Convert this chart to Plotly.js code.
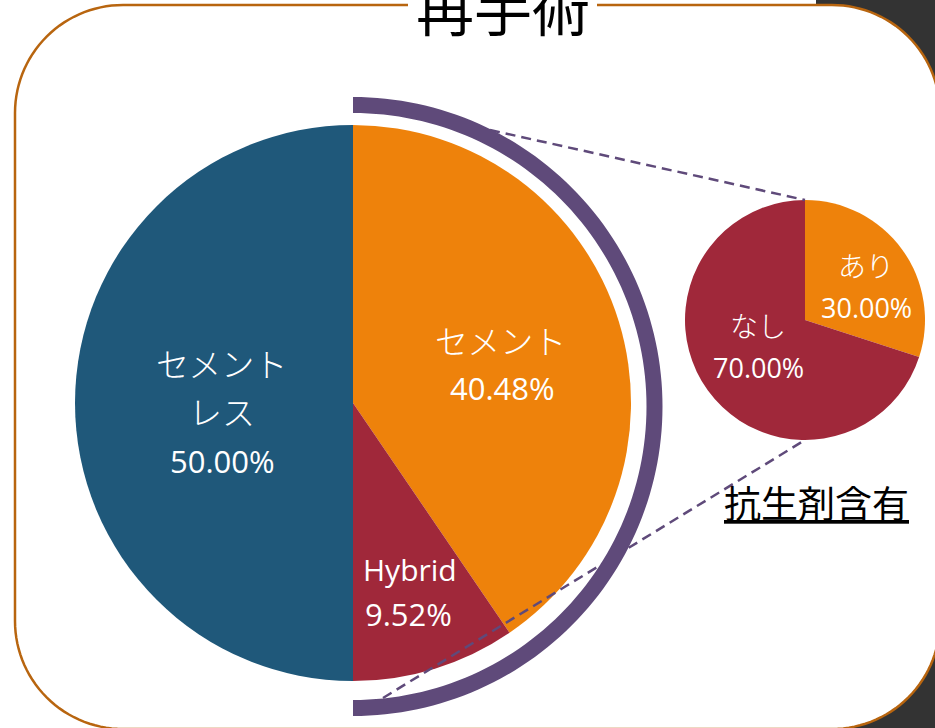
<!DOCTYPE html>
<html>
<head>
<meta charset="utf-8">
<script src="https://cdn.plot.ly/plotly-3.0.1.min.js"></script>
<style>html,body{margin:0;padding:0;background:#fff;}#chart{width:935px;height:728px;}</style>
</head>
<body>
<div id="chart"></div>
<script>
// ---- data ----
const chartTitle = '再手術';
const bigLabels = ['セメント', 'Hybrid', 'セメントレス'];
const bigValues = [40.48, 9.52, 50.00];
const bigDisplay = [['セメント'], ['Hybrid'], ['セメント', 'レス']];
const smallLabels = ['あり', 'なし'];
const smallValues = [30.00, 70.00];
const smallTitle = '抗生剤含有';

// ---- styles ----
const W = 935, H = 728;
const cBlue = '#1F587A', cOrange = '#EE820B', cRed = '#A0283A', cPurple = '#5F4A7A';
const cBorder = '#B8650F', cDark = '#333333';
const jpFont = 'Noto Sans CJK JP, sans-serif';
const numFont = 'Open Sans, Noto Sans, sans-serif';

function dom(cx, cy, r) {
  return { x: [(cx - r) / W, (cx + r) / W], y: [(H - cy - r) / H, (H - cy + r) / H] };
}

const bigPie = {
  type: 'pie', labels: bigLabels, values: bigValues, sort: false, direction: 'clockwise', rotation: 0,
  marker: { colors: [cOrange, cRed, cBlue], line: { width: 0 } },
  textinfo: 'none', hoverinfo: 'label+percent', showlegend: false,
  domain: dom(353, 403, 278)
};
const smallPie = {
  type: 'pie', labels: smallLabels, values: smallValues, sort: false, direction: 'clockwise', rotation: 0,
  marker: { colors: [cOrange, cRed], line: { width: 0 } },
  textinfo: 'none', hoverinfo: 'label+percent', showlegend: false,
  domain: dom(805, 320, 120)
};

function pt(cx, cy, r, a) {
  const t = a * Math.PI / 180;
  return [cx + r * Math.sin(t), cy - r * Math.cos(t)];
}
function annulusPath(cx, cy, rO, rI, a0, a1, n) {
  let p = [];
  for (let i = 0; i <= n; i++) p.push(pt(cx, cy, rO, a0 + (a1 - a0) * i / n));
  for (let i = n; i >= 0; i--) p.push(pt(cx, cy, rI, a0 + (a1 - a0) * i / n));
  return 'M' + p.map(q => q[0].toFixed(2) + ',' + q[1].toFixed(2)).join('L') + 'Z';
}
function roundRectPath(x0, y0, x1, y1, r, n) {
  const pts = [];
  const corner = (cx, cy, a0, a1) => { for (let i = 0; i <= n; i++) pts.push(pt(cx, cy, r, a0 + (a1 - a0) * i / n)); };
  corner(x1 - r, y0 + r, 0, 90);
  corner(x1 - r, y1 - r, 90, 180);
  corner(x0 + r, y1 - r, 180, 270);
  corner(x0 + r, y0 + r, 270, 360);
  return 'M' + pts.map(q => q[0].toFixed(2) + ',' + q[1].toFixed(2)).join('L') + 'Z';
}

const shapes = [
  { type: 'rect', xref: 'x', yref: 'y', x0: 816, x1: 935, y0: 0, y1: 728, fillcolor: cDark, line: { width: 0 }, layer: 'below' },
  { type: 'path', xref: 'x', yref: 'y', path: roundRectPath(15, 5, 940, 729, 108, 30), fillcolor: '#ffffff', line: { color: cBorder, width: 2.5 }, layer: 'below' },
  { type: 'rect', xref: 'x', yref: 'y', x0: 408, x1: 597, y0: 0, y1: 12, fillcolor: '#ffffff', line: { width: 0 }, layer: 'below' },
  { type: 'line', xref: 'x', yref: 'y', x0: 490, y0: 130, x1: 805, y1: 200, line: { color: cPurple, width: 2.5, dash: '10px,6px' }, layer: 'above' },
  { type: 'line', xref: 'x', yref: 'y', x0: 383, y0: 698, x1: 805, y1: 440, line: { color: cPurple, width: 2.5, dash: '10px,6px' }, layer: 'above' },
  { type: 'path', xref: 'x', yref: 'y', path: annulusPath(353, 406.5, 309.5, 293.5, 0, 180, 120), fillcolor: cPurple, line: { width: 0 }, layer: 'above' }
];

function ann(x, y, text, font, size, color, weight) {
  return { xref: 'x', yref: 'y', x: x, y: y, text: text, showarrow: false, xanchor: 'center', yanchor: 'middle',
    font: { family: font, size: size, color: color || '#ffffff', weight: weight || 400 } };
}
const pct = v => v.toFixed(2) + '%';

const annotations = [
  ann(503, 6, chartTitle, jpFont, 58, '#000000', 400),
  // big pie labels
  ann(500, 340, bigDisplay[0][0], jpFont, 33, '#ffffff', 300),
  ann(502, 388, pct(bigValues[0]), numFont, 31),
  ann(410, 569, bigDisplay[1][0], numFont, 30),
  ann(408, 614, pct(bigValues[1]), numFont, 31),
  ann(221, 363, bigDisplay[2][0], jpFont, 33, '#ffffff', 300),
  ann(222, 411, bigDisplay[2][1], jpFont, 33, '#ffffff', 300),
  ann(222, 461, pct(bigValues[2]), numFont, 31),
  // small pie labels
  ann(866, 265, smallLabels[0], jpFont, 28, '#ffffff', 300),
  ann(866, 307, pct(smallValues[0]), numFont, 27),
  ann(758, 325, smallLabels[1], jpFont, 28, '#ffffff', 300),
  ann(758, 367, pct(smallValues[1]), numFont, 27),
  ann(816, 502, '<u>' + smallTitle + '</u>', jpFont, 37, '#000000', 400)
];

const layout = {
  width: W, height: H, margin: { l: 0, r: 0, t: 0, b: 0 },
  paper_bgcolor: '#ffffff', plot_bgcolor: 'rgba(0,0,0,0)',
  xaxis: { range: [0, W], visible: false, fixedrange: true },
  yaxis: { range: [H, 0], visible: false, fixedrange: true },
  shapes: shapes, annotations: annotations, showlegend: false
};

Plotly.newPlot('chart', [bigPie, smallPie], layout, { displayModeBar: false, staticPlot: true });
</script>
</body>
</html>
